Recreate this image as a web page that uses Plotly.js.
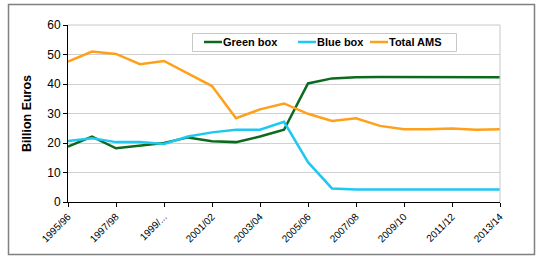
<!DOCTYPE html>
<html><head><meta charset="utf-8">
<script src="https://cdn.plot.ly/plotly-3.0.1.min.js"></script>
<style>body{margin:0;padding:0;background:#fff}#chart{width:537px;height:256px}</style>
</head><body><div id="chart"></div>
<script>
const categories = ["1995/96","1996/97","1997/98","1998/99","1999/00","2000/01","2001/02","2002/03","2003/04","2004/05","2005/06","2006/07","2007/08","2008/09","2009/10","2010/11","2011/12","2012/13","2013/14"];
const tickCats = ["1995/96","1997/98","1999/00","2001/02","2003/04","2005/06","2007/08","2009/10","2011/12","2013/14"];
const tickLabels = ["1995/96","1997/98","1999/...","2001/02","2003/04","2005/06","2007/08","2009/10","2011/12","2013/14"];
const seriesNames = ["Green box","Blue box","Total AMS"];
const seriesColors = ["#0b6a1e","#1fc8f2","#ffa01a"];
const greenBox = [18.8,22.2,18.2,19.2,20.0,21.9,20.6,20.3,22.2,24.5,40.2,41.9,42.3,42.4,42.4,42.4,42.4,42.4,42.3];
const blueBox = [20.7,21.6,20.3,20.3,19.7,22.2,23.6,24.5,24.5,27.2,13.5,4.6,4.2,4.2,4.2,4.2,4.2,4.2,4.2];
const totalAMS = [47.6,51.0,50.2,46.7,47.8,43.5,39.3,28.4,31.4,33.4,29.9,27.5,28.4,25.8,24.7,24.7,24.9,24.5,24.7];
const values = [greenBox,blueBox,totalAMS];

const traces = values.map((v,i)=>({x:categories,y:v,name:seriesNames[i],type:"scatter",mode:"lines",line:{color:seriesColors[i],width:2.5}}));
const L=68,R=500,T=25,B=202;
const px=v=>(v-L)/(R-L), py=v=>(B-v)/(B-T);
// custom legend (pixel layout)
const legLineX=[204,298,370];
const legY=py(42);
const shapes=[
  {type:"line",xref:"paper",yref:"paper",x0:0,x1:1,y0:1,y1:1,line:{color:"#c8c8c8",width:1}},
  {type:"line",xref:"paper",yref:"paper",x0:1,x1:1,y0:0,y1:1,line:{color:"#c8c8c8",width:1}},
  {type:"rect",xref:"paper",yref:"paper",x0:px(8.5),x1:px(534.5),y0:py(4.5),y1:py(254.5),line:{color:"#808080",width:1.5},layer:"below"},
  {type:"rect",xref:"paper",yref:"paper",x0:px(192.5),x1:px(456.5),y0:py(33.5),y1:py(51.5),line:{color:"#c8c8c8",width:1},fillcolor:"#fff",layer:"above"}
];
const annotations=[];
seriesNames.forEach((n,i)=>{
  shapes.push({type:"line",xref:"paper",yref:"paper",x0:px(legLineX[i]),x1:px(legLineX[i]+18),y0:legY,y1:legY,line:{color:seriesColors[i],width:2.5},layer:"above"});
  annotations.push({xref:"paper",yref:"paper",x:px(legLineX[i]+18),y:legY,xanchor:"left",yanchor:"middle",showarrow:false,
    text:"<b>"+n+"</b>",font:{size:11,family:"Liberation Sans, Arial, sans-serif",color:"#000"},xshift:-1});
});
const layout = {
  width:537,height:256,
  margin:{l:L,r:537-R,t:T,b:256-B},
  paper_bgcolor:"#fff",plot_bgcolor:"#fff",
  font:{family:"Liberation Sans, Arial, sans-serif",color:"#000"},
  showlegend:false,
  xaxis:{type:"category",range:[0,18],tickvals:tickCats,ticktext:tickLabels,tickangle:-45,
    tickfont:{size:10},showgrid:false,showline:true,linecolor:"#000",linewidth:1,ticks:"outside",ticklen:4,tickcolor:"#000",zeroline:false},
  yaxis:{range:[0,60],dtick:10,tickfont:{size:12},showgrid:true,gridcolor:"#d0d0d0",gridwidth:1,showline:true,linecolor:"#000",linewidth:1,
    ticks:"outside",ticklen:4,tickcolor:"#000",zeroline:false,
    title:{text:"<b>Billion Euros</b>",font:{size:12.5},standoff:12}},
  shapes:shapes,
  annotations:annotations
};
Plotly.newPlot("chart",traces,layout,{displayModeBar:false,staticPlot:true});
</script></body></html>
